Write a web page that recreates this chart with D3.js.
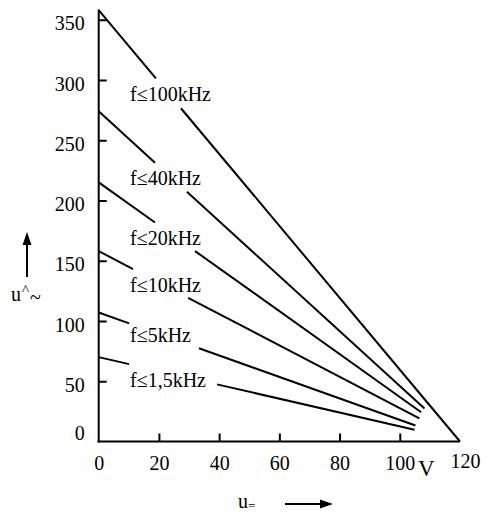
<!DOCTYPE html>
<html lang="en">
<head>
<meta charset="utf-8">
<title>u~ over u=</title>
<script src="https://cdn.jsdelivr.net/npm/d3@7"></script>
<style>
  body { margin: 0; background: #fff; }
  svg { font-family: "Liberation Serif", "Times New Roman", serif; }
  .curve { fill: none; stroke: #000; stroke-width: 2px; }
  .tick text { font-size: 20px; fill: #000; font-family: "Liberation Serif", "Times New Roman", serif; }
</style>
</head>
<body>
<div id="chart"></div>
<script>
  // series: value at u= = 0, and where each line stops
  var labels = ["f\u2264100kHz", "f\u226440kHz", "f\u226420kHz", "f\u226410kHz", "f\u22645kHz", "f\u22641,5kHz"];
  var startVals = [358, 274, 215, 158, 107, 70];
  var endU = [120, 108.2, 107.1, 106.5, 105.2, 104.9];
  var endVals = [0, 27.4, 24.3, 19.1, 13.3, 9.7];

  var xTicks = [0, 20, 40, 60, 80, 100, 120];
  var yTicks = [0, 50, 100, 150, 200, 250, 300, 350];

  // layout for the in-line labels (baseline in px, gap along the line in volts)
  var labelBase = [101, 185, 245, 292, 342, 387];
  var gapFrom = [19.0, 18.7, 18.7, 11.4, 10.1, 10.1];
  var gapTo = [27.3, 29.3, 32.0, 29.7, 33.3, 39.3];

  var width = 485, height = 514;

  var x = d3.scaleLinear().domain([0, 120]).range([98.7, 460]);
  var y = d3.scaleLinear().domain([0, 360]).range([441.5, 441.5 - 360 * 1.205]);

  var svg = d3.select("#chart").append("svg")
    .attr("width", width)
    .attr("height", height);

  // axes, ticks pointing into the plot
  var yAxis = d3.axisLeft(y).tickValues(yTicks).tickSizeInner(-8).tickSizeOuter(0).tickPadding(14);
  var xAxis = d3.axisBottom(x).tickValues(xTicks).tickSizeInner(-8).tickSizeOuter(0).tickPadding(14);

  var gy = svg.append("g").attr("transform", "translate(" + x(0) + ",0)").call(yAxis);
  var gx = svg.append("g").attr("transform", "translate(0," + y(0) + ")").call(xAxis);

  gy.attr("font-family", null).attr("font-size", null);
  gx.attr("font-family", null).attr("font-size", null);
  gy.select(".domain").remove();
  gx.select(".domain").remove();
  gy.selectAll(".tick line").attr("stroke-width", 2).filter(function (d) { return d === 0; }).remove();
  gx.selectAll(".tick line").attr("stroke-width", 2).filter(function (d) { return d === 0 || d === 120; }).remove();
  gy.selectAll(".tick text").attr("dy", function (d) { return d === 0 ? "-0.1em" : "0.5em"; });
  gx.selectAll(".tick text").attr("dx", function (d) { return d === 120 ? 5 : 0; })
    .attr("y", function (d) { return d === 120 ? 12 : 14; });

  svg.append("line")
    .attr("x1", x(0)).attr("x2", x(0)).attr("y1", y(0) + 1).attr("y2", y(358.5))
    .attr("stroke", "#000").attr("stroke-width", 2);
  svg.append("line")
    .attr("x1", x(0) - 1).attr("x2", x(120)).attr("y1", y(0)).attr("y2", y(0))
    .attr("stroke", "#000").attr("stroke-width", 2);

  svg.append("text").attr("x", 418).attr("y", 476)
    .attr("font-size", 23).text("V");

  // lines, each broken where its label sits
  var line = d3.line().x(function (d) { return x(d[0]); }).y(function (d) { return y(d[1]); });

  labels.forEach(function (lab, i) {
    var at = function (u) {
      return startVals[i] + (endVals[i] - startVals[i]) * u / endU[i];
    };
    svg.append("path").attr("class", "curve")
      .attr("d", line([[0, startVals[i]], [gapFrom[i], at(gapFrom[i])]]));
    svg.append("path").attr("class", "curve")
      .attr("d", line([[gapTo[i], at(gapTo[i])], [endU[i], endVals[i]]]));
    svg.append("text")
      .attr("x", 130).attr("y", labelBase[i])
      .attr("font-size", 20)
      .text(lab);
  });

  // axis names with arrows
  var arrow = function (x1, y1, x2, y2) {
    svg.append("line").attr("x1", x1).attr("y1", y1).attr("x2", x2).attr("y2", y2)
      .attr("stroke", "#000").attr("stroke-width", 2);
  };
  arrow(27, 277, 27, 242);
  svg.append("path").attr("d", "M22.5,245 L27,232 L31.5,245 Z").attr("fill", "#000");
  svg.append("text").attr("x", 11).attr("y", 301).attr("font-size", 20).text("u");
  svg.append("text").attr("x", 22).attr("y", 295).attr("font-size", 15).text("^");
  svg.append("text").attr("x", 30).attr("y", 304).attr("font-size", 20).text("~");

  arrow(285, 504, 322, 504);
  svg.append("path").attr("d", "M320,499.5 L333,504 L320,508.5 Z").attr("fill", "#000");
  svg.append("text").attr("x", 238).attr("y", 508).attr("font-size", 20).text("u");
  svg.append("text").attr("x", 248).attr("y", 510).attr("font-size", 13).text("=");
</script>
</body>
</html>
